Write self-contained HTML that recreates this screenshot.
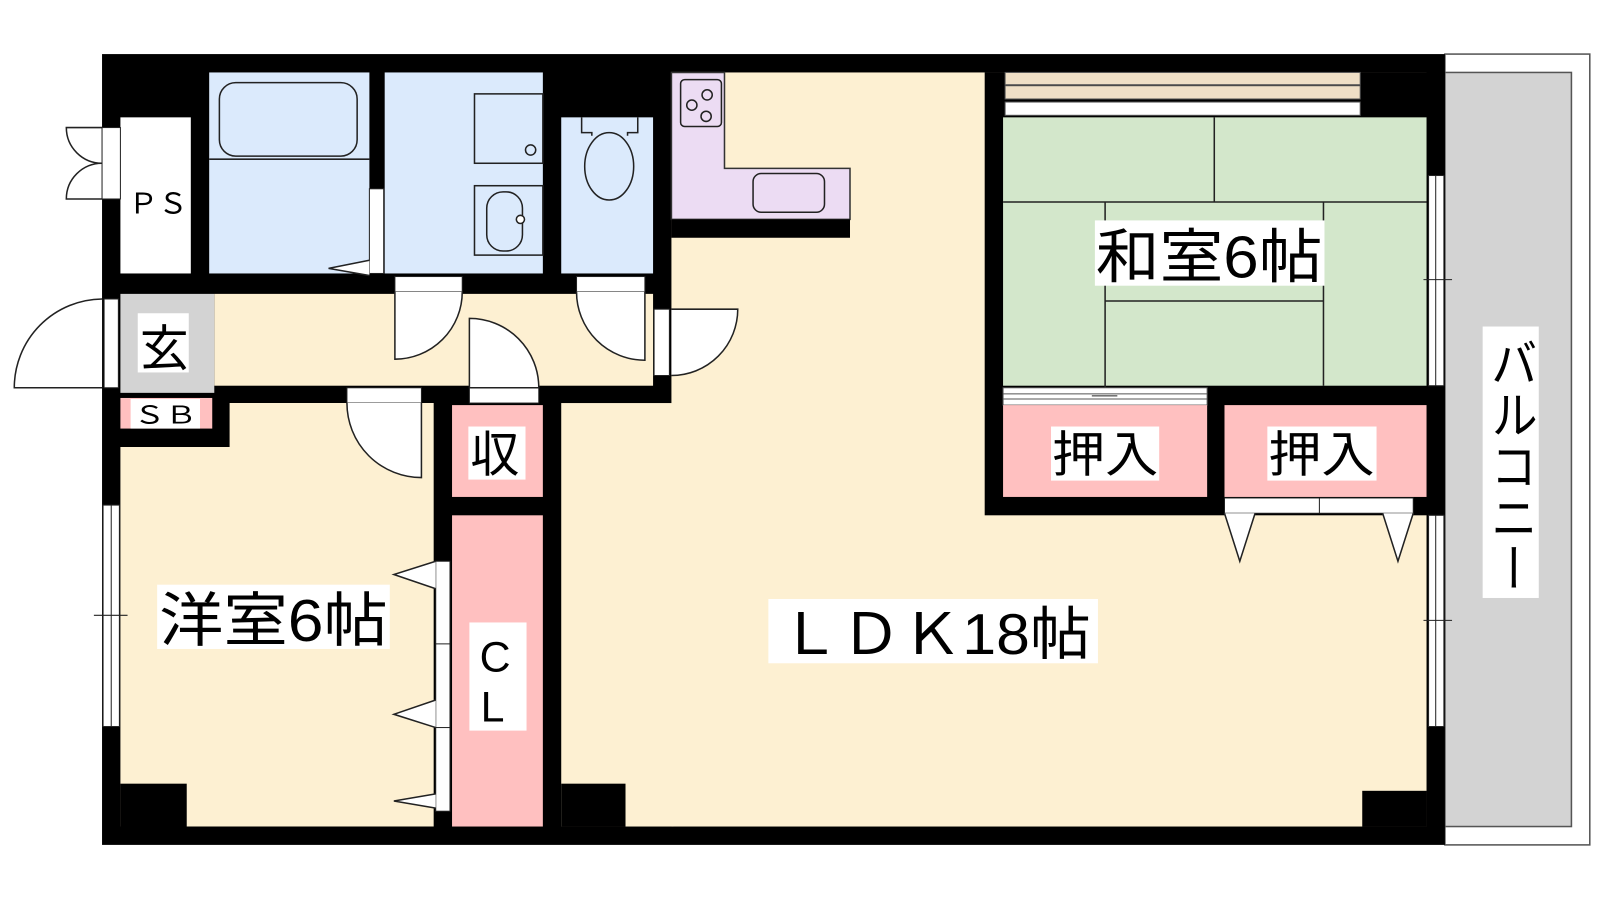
<!DOCTYPE html>
<html><head><meta charset="utf-8"><style>
html,body{margin:0;padding:0;background:#fff;}
svg{display:block}
text{font-family:"Liberation Sans","Noto Sans CJK JP",sans-serif;fill:#000}
</style></head><body>
<svg width="1600" height="900" viewBox="0 0 1568 882" xmlns="http://www.w3.org/2000/svg">
<rect width="1568" height="882" fill="#fff"/>
<!-- balcony -->
<rect x="1416" y="53" width="142" height="775" fill="#fff" stroke="#555" stroke-width="1.5"/>
<rect x="1416" y="71" width="124" height="739" fill="#d3d3d3" stroke="#555" stroke-width="1.5"/>
<!-- outer wall block -->
<rect x="100" y="53" width="1316" height="775" fill="#000"/>
<!-- LDK floor -->
<rect x="658" y="71" width="740" height="739" fill="#fdf0d2"/>
<rect x="550" y="395" width="110" height="415" fill="#fdf0d2"/>
<!-- kitchen -->
<path d="M658 71 H710 V165 H833 V215 H658 Z" fill="#ecdcf3" stroke="#333" stroke-width="1.5"/>
<rect x="658" y="215" width="175" height="18" fill="#000"/>
<rect x="667" y="78" width="40" height="46" rx="4" fill="none" stroke="#222" stroke-width="1.5"/>
<g fill="none" stroke="#222" stroke-width="1.5"><circle cx="693" cy="93" r="5"/><circle cx="678" cy="103" r="5"/><circle cx="692" cy="114" r="5"/></g>
<rect x="738" y="170" width="70" height="38" rx="8" fill="none" stroke="#222" stroke-width="1.5"/>
<!-- bath / wash / toilet -->
<rect x="205" y="71" width="157" height="197" fill="#dbeafc"/>
<rect x="215" y="81" width="135" height="72" rx="16" fill="none" stroke="#222" stroke-width="1.5"/>
<line x1="205" y1="156" x2="362" y2="156" stroke="#222" stroke-width="1.5"/>
<rect x="362" y="185" width="14" height="83" fill="#fff" stroke="#222" stroke-width="1"/>
<path d="M362 255 L322 263 L362 270" fill="#fff" stroke="#222" stroke-width="1.5"/>
<rect x="377" y="71" width="155" height="197" fill="#dbeafc"/>
<rect x="465" y="92" width="67" height="68" fill="none" stroke="#222" stroke-width="1.5"/>
<circle cx="520" cy="147" r="5" fill="none" stroke="#222" stroke-width="1.5"/>
<rect x="465" y="182" width="67" height="68" fill="none" stroke="#222" stroke-width="1.5"/>
<rect x="477" y="188" width="35" height="58" rx="16" fill="none" stroke="#222" stroke-width="1.5"/>
<circle cx="510" cy="215" r="4" fill="#fff" stroke="#222" stroke-width="1.5"/>
<rect x="550" y="115" width="90" height="153" fill="#dbeafc"/>
<path d="M570 115 V130 H580 V133 M625 115 V130 H615 V133" fill="none" stroke="#222" stroke-width="1.5"/>
<ellipse cx="597" cy="163" rx="24" ry="33" fill="none" stroke="#222" stroke-width="1.5"/>
<!-- PS -->
<rect x="118" y="115" width="69" height="153" fill="#fff"/>
<text x="126" y="209" font-size="28" textLength="58" lengthAdjust="spacingAndGlyphs">ＰＳ</text>
<path d="M100 125 H65 A35 35 0 0 0 100 160 A35 35 0 0 0 65 195 H100" fill="#fff" stroke="#222" stroke-width="1.5"/>
<rect x="100" y="125" width="18" height="70" fill="#fff" stroke="#222" stroke-width="1"/>
<!-- hall -->
<rect x="210" y="288" width="430" height="90" fill="#fdf0d2"/>
<rect x="118" y="288" width="92" height="97" fill="#d3d3d3"/>
<rect x="135" y="307" width="50" height="58" fill="#fff"/>
<text x="137" y="358" font-size="48">玄</text>
<rect x="118" y="390" width="90" height="30" fill="#ffc0c0"/>
<rect x="128" y="391" width="68" height="29" fill="#fff"/>
<text x="131" y="415" font-size="24" textLength="62" lengthAdjust="spacingAndGlyphs">ＳＢ</text>
<!-- entry door -->
<rect x="102" y="293" width="14" height="87" fill="#fff" stroke="#222" stroke-width="1"/>
<path d="M100 293 A87 87 0 0 0 14 380 H100" fill="#fff" stroke="#222" stroke-width="1.5"/>
<!-- wash door -->
<rect x="387" y="271" width="66" height="15" fill="#fff" stroke="#222" stroke-width="1"/>
<path d="M453 286 A66 66 0 0 1 387 352 V286" fill="#fff" stroke="#222" stroke-width="1.5"/>
<!-- toilet door -->
<rect x="565" y="271" width="67" height="15" fill="#fff" stroke="#222" stroke-width="1"/>
<path d="M565 286 A67 67 0 0 0 632 353 V286" fill="#fff" stroke="#222" stroke-width="1.5"/>
<!-- LDK door -->
<rect x="641" y="303" width="15" height="65" fill="#fff" stroke="#222" stroke-width="1"/>
<path d="M658 303 H723 A65 65 0 0 1 658 368" fill="#fff" stroke="#222" stroke-width="1.5"/>
<!-- storage door (opens into hall) -->
<rect x="460" y="380" width="68" height="15" fill="#fff" stroke="#222" stroke-width="1"/>
<path d="M460 380 V312 A68 68 0 0 1 528 380 Z" fill="#fff" stroke="#222" stroke-width="1.5"/>
<!-- western room -->
<path d="M118 438 H225 V395 H425 V810 H118 Z" fill="#fdf0d2"/>
<rect x="118" y="768" width="65" height="42" fill="#000"/>
<rect x="340" y="380" width="73" height="15" fill="#fff" stroke="#222" stroke-width="1"/>
<path d="M340 395 A73 73 0 0 0 413 468 V395" fill="#fff" stroke="#222" stroke-width="1.5"/>
<!-- left window -->
<rect x="101" y="495" width="16" height="217" fill="#fff" stroke="#222" stroke-width="1"/>
<line x1="109" y1="495" x2="109" y2="712" stroke="#222" stroke-width="1"/>
<line x1="92" y1="603" x2="125" y2="603" stroke="#222" stroke-width="1"/>
<!-- storage / CL -->
<rect x="443" y="397" width="89" height="90" fill="#ffc0c0"/>
<rect x="443" y="505" width="89" height="305" fill="#ffc0c0"/>
<rect x="459" y="418" width="56" height="52" fill="#fff"/>
<text x="461" y="462" font-size="48">収</text>
<rect x="460" y="610" width="56" height="106" fill="#fff"/>
<text x="470" y="658" font-size="42">C</text>
<text x="471" y="707" font-size="42">L</text>
<rect x="427" y="550" width="14" height="245" fill="#fff" stroke="#222" stroke-width="1"/>
<line x1="427" y1="631" x2="441" y2="631" stroke="#222" stroke-width="1"/>
<line x1="427" y1="713" x2="441" y2="713" stroke="#222" stroke-width="1"/>
<g fill="#fff" stroke="#222" stroke-width="1.5">
<path d="M427 550 L386 563 L427 577"/>
<path d="M427 686 L386 700 L427 713"/>
<path d="M427 778 L386 785 L427 792"/>
</g>
<!-- LDK corners -->
<rect x="550" y="768" width="63" height="42" fill="#000"/>
<rect x="1335" y="775" width="63" height="35" fill="#000"/>
<!-- Japanese room -->
<rect x="965" y="71" width="451" height="434" fill="#000"/>
<rect x="983" y="115" width="415" height="263" fill="#d3e7cb"/>
<rect x="985" y="71" width="348" height="12" fill="#efdfc6" stroke="#555" stroke-width="1"/>
<rect x="985" y="84" width="348" height="13" fill="#efdfc6" stroke="#555" stroke-width="1"/>
<rect x="985" y="100" width="348" height="13" fill="#fff" stroke="#555" stroke-width="1"/>
<g stroke="#222" stroke-width="1.5" fill="none">
<line x1="1190" y1="115" x2="1190" y2="198"/>
<line x1="983" y1="198" x2="1398" y2="198"/>
<line x1="1083" y1="198" x2="1083" y2="380"/>
<line x1="1297" y1="198" x2="1297" y2="378"/>
<line x1="1083" y1="295" x2="1297" y2="295"/>
</g>
<rect x="983" y="380" width="200" height="17" fill="#fff" stroke="#555" stroke-width="1"/>
<line x1="983" y1="386" x2="1183" y2="386" stroke="#555" stroke-width="1"/>
<line x1="983" y1="391" x2="1183" y2="391" stroke="#555" stroke-width="1"/>
<line x1="1070" y1="388" x2="1095" y2="388" stroke="#222" stroke-width="1"/>
<rect x="983" y="397" width="200" height="90" fill="#ffc0c0"/>
<rect x="1200" y="397" width="198" height="90" fill="#ffc0c0"/>
<rect x="1030" y="418" width="106" height="53" fill="#fff"/>
<text x="1031" y="462" font-size="48" textLength="104" lengthAdjust="spacingAndGlyphs">押入</text>
<rect x="1242" y="418" width="107" height="53" fill="#fff"/>
<text x="1243" y="462" font-size="48" textLength="104" lengthAdjust="spacingAndGlyphs">押入</text>
<rect x="1200" y="488" width="185" height="15" fill="#fff" stroke="#222" stroke-width="1"/>
<line x1="1293" y1="488" x2="1293" y2="503" stroke="#222" stroke-width="1"/>
<g fill="#fff" stroke="#222" stroke-width="1.5">
<path d="M1200 503 L1215 550 L1230 503"/>
<path d="M1355 503 L1370 550 L1385 503"/>
</g>
<!-- right windows -->
<rect x="1400" y="172" width="15" height="206" fill="#fff" stroke="#222" stroke-width="1"/>
<line x1="1407" y1="172" x2="1407" y2="378" stroke="#222" stroke-width="1"/>
<line x1="1395" y1="274" x2="1423" y2="274" stroke="#222" stroke-width="1"/>
<rect x="1400" y="505" width="15" height="207" fill="#fff" stroke="#222" stroke-width="1"/>
<line x1="1407" y1="505" x2="1407" y2="712" stroke="#222" stroke-width="1"/>
<line x1="1395" y1="608" x2="1423" y2="608" stroke="#222" stroke-width="1"/>
<!-- labels -->
<rect x="1073" y="216" width="225" height="64" fill="#fff"/>
<text x="1074" y="272" font-size="58" textLength="222" lengthAdjust="spacingAndGlyphs">和室6帖</text>
<rect x="154" y="573" width="228" height="63" fill="#fff"/>
<text x="156" y="628" font-size="58" textLength="224" lengthAdjust="spacingAndGlyphs">洋室6帖</text>
<rect x="753" y="587" width="323" height="63" fill="#fff"/>
<text x="764" y="641" font-size="56" textLength="305" lengthAdjust="spacingAndGlyphs">ＬＤＫ18帖</text>
<rect x="1453" y="320" width="55" height="266" fill="#fff"/>
<text x="1480" y="330" font-size="46" textLength="252" lengthAdjust="spacingAndGlyphs" style="writing-mode:vertical-rl">バルコニー</text>
</svg>
</body></html>
